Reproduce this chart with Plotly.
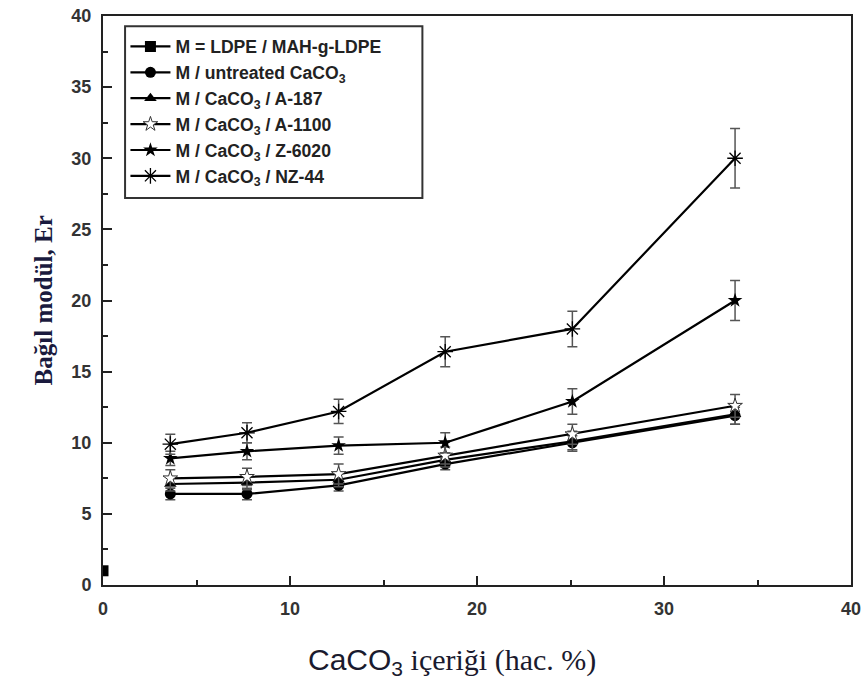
import plotly.graph_objects as go

x_vals = [3.6, 7.7, 12.6, 18.3, 25.1, 33.8]

ldpe_x = [0]
ldpe_y = [1.0]

untreated_y = [6.4, 6.4, 7.0, 8.5, 10.0, 11.9]
untreated_err = [0.4, 0.4, 0.4, 0.4, 0.5, 0.6]

a187_y = [7.1, 7.2, 7.4, 8.8, 10.1, 12.0]
a187_err = [0.5, 0.5, 0.5, 0.5, 0.7, 0.7]

a1100_y = [7.5, 7.6, 7.8, 9.1, 10.6, 12.6]
a1100_err = [0.6, 0.6, 0.7, 0.6, 0.7, 0.8]

z6020_y = [8.9, 9.4, 9.8, 10.0, 12.9, 20.0]
z6020_err = [0.5, 0.6, 0.6, 0.7, 0.9, 1.4]

nz44_y = [9.9, 10.7, 12.2, 16.4, 18.0, 30.0]
nz44_err = [0.7, 0.7, 0.85, 1.05, 1.25, 2.1]

names = [
    "M = LDPE / MAH-g-LDPE",
    "M / untreated CaCO<sub>3</sub>",
    "M / CaCO<sub>3</sub> / A-187",
    "M / CaCO<sub>3</sub> / A-1100",
    "M / CaCO<sub>3</sub> / Z-6020",
    "M / CaCO<sub>3</sub> / NZ-44",
]

x_title = "<span style='font-family:Liberation Sans'>CaCO<sub>3</sub></span> içeriği (hac. %)"
y_title = "Bağıl modül, Er"

fig = go.Figure()

def err(e):
    return dict(type="data", array=e, visible=True, color="#555555", thickness=1.5, width=5)

line = dict(color="black", width=2.2)

fig.add_trace(go.Scatter(x=ldpe_x, y=ldpe_y, name=names[0], mode="lines+markers",
                         line=line, marker=dict(symbol="square", size=11, color="black")))
fig.add_trace(go.Scatter(x=x_vals, y=untreated_y, name=names[1], mode="lines+markers",
                         line=line, error_y=err(untreated_err),
                         marker=dict(symbol="circle", size=11, color="black")))
fig.add_trace(go.Scatter(x=x_vals, y=a187_y, name=names[2], mode="lines+markers",
                         line=line, error_y=err(a187_err),
                         marker=dict(symbol="triangle-up", size=11, color="black")))
fig.add_trace(go.Scatter(x=x_vals, y=a1100_y, name=names[3], mode="lines+markers",
                         line=line, error_y=err(a1100_err),
                         marker=dict(symbol="star", size=11, color="white",
                                     line=dict(color="#333333", width=1))))
fig.add_trace(go.Scatter(x=x_vals, y=z6020_y, name=names[4], mode="lines+markers",
                         line=line, error_y=err(z6020_err),
                         marker=dict(symbol="star", size=11, color="black")))
fig.add_trace(go.Scatter(x=x_vals, y=nz44_y, name=names[5], mode="lines+markers",
                         line=line, error_y=err(nz44_err),
                         marker=dict(symbol="asterisk-open", size=13,
                                     line=dict(color="#444444", width=1.3))))

tickfont = dict(family="Liberation Sans, Arial", size=18, color="#333333", weight="bold")

fig.update_layout(
    width=863, height=681,
    margin=dict(l=103, r=12, t=16, b=96),
    paper_bgcolor="white", plot_bgcolor="white",
    showlegend=True,
    legend=dict(
        x=0.03, y=0.978, xanchor="left", yanchor="top",
        borderwidth=0, bgcolor="rgba(0,0,0,0)",
        font=dict(family="Liberation Sans, Arial", size=17.6, color="#222222", weight="bold"),
        tracegroupgap=0, itemwidth=40,
    ),
    shapes=[
        dict(type="rect", xref="paper", yref="paper",
             x0=0.0295, x1=0.427, y0=0.680, y1=0.982,
             line=dict(color="#333333", width=2), fillcolor="rgba(0,0,0,0)", layer="above"),
    ],
    xaxis=dict(
        range=[0, 40], dtick=10, tick0=0, automargin=False,
        showgrid=False, zeroline=False,
        showline=True, linecolor="#222222", linewidth=2, mirror=True,
        ticks="inside", ticklen=9, tickwidth=2, tickcolor="#222222",
        minor=dict(ticks="inside", dtick=5, ticklen=5, tickwidth=2, tickcolor="#222222"),
        tickfont=tickfont, ticklabelstandoff=6,
    ),
    yaxis=dict(
        range=[0, 40], dtick=5, tick0=0, automargin=False,
        showgrid=False, zeroline=False,
        showline=True, linecolor="#222222", linewidth=2, mirror=True,
        ticks="inside", ticklen=9, tickwidth=2, tickcolor="#222222",
        minor=dict(ticks="inside", dtick=2.5, ticklen=5, tickwidth=2, tickcolor="#222222"),
        tickfont=tickfont, ticklabelstandoff=6,
    ),
    annotations=[
        dict(text=x_title, xref="paper", yref="paper", x=0.466, y=-0.134,
             xanchor="center", yanchor="middle", showarrow=False,
             font=dict(family="Liberation Serif, Times New Roman", size=30, color="#1a1a2e")),
        dict(text=y_title, xref="paper", yref="paper", x=-0.079, y=0.5,
             xanchor="center", yanchor="middle", showarrow=False, textangle=-90,
             font=dict(family="Liberation Serif, Times New Roman", size=25, color="#1a1a3e",
                       weight="bold")),
    ],
)

fig.write_html("out.html")
